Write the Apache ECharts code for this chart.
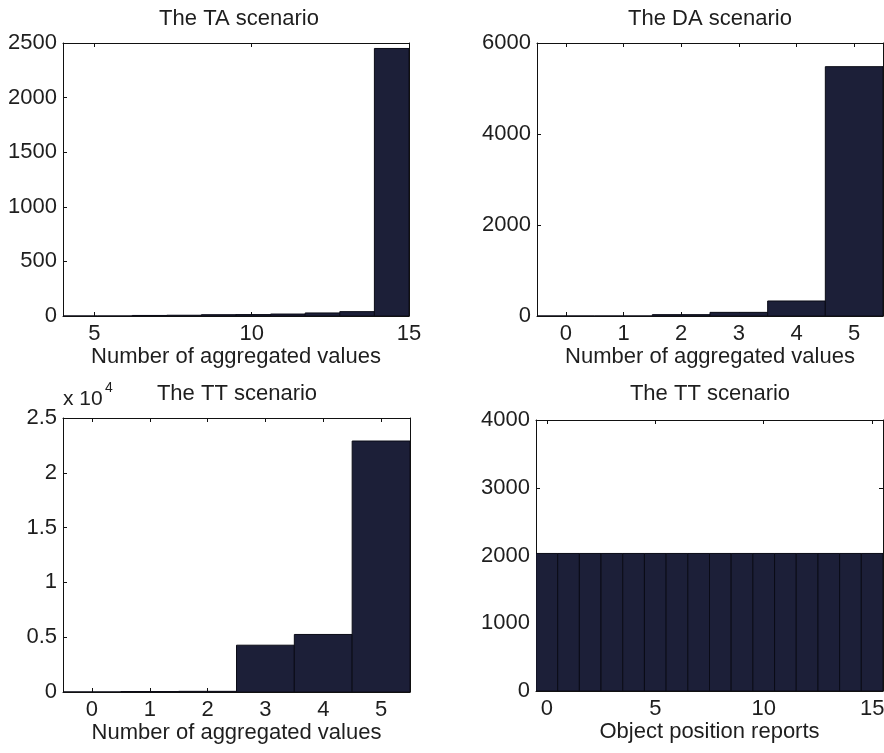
<!DOCTYPE html>
<html>
<head>
<meta charset="utf-8">
<script src="https://cdn.jsdelivr.net/npm/echarts@6/dist/echarts.min.js"></script>
<style>
html,body{margin:0;padding:0;background:#fff;}
#c{width:884px;height:753px;}
</style>
</head>
<body>
<div id="c"></div>
<script>
// ---- data ----
const taBinEdges = [4, 5.1, 6.2, 7.3, 8.4, 9.5, 10.6, 11.7, 12.8, 13.9, 15];
const taCounts = [0, 0, 5, 7, 12, 13, 18, 28, 40, 2450];
const taXTicks = [5, 10, 15];

const daValues = [0, 1, 2, 3, 4, 5];
const daCounts = [0, 0, 30, 80, 330, 5480];
const daXTicks = [0, 1, 2, 3, 4, 5];

const ttValues = [0, 1, 2, 3, 4, 5];
const ttCounts = [5, 40, 60, 4270, 5250, 22900];
const ttXTicks = [0, 1, 2, 3, 4, 5];

const posValues = [0, 1, 2, 3, 4, 5, 6, 7, 8, 9, 10, 11, 12, 13, 14, 15];
const posCounts = [2030, 2030, 2030, 2030, 2030, 2030, 2030, 2030, 2030, 2030, 2030, 2030, 2030, 2030, 2030, 2030];
const posXTicks = [0, 5, 10, 15];

const titles = ['The TA scenario', 'The DA scenario', 'The TT scenario', 'The TT scenario'];
const xNames = ['Number of aggregated values', 'Number of aggregated values', 'Number of aggregated values', 'Object position reports'];

// ---- style ----
const FONT = "'Liberation Sans', Arial, Helvetica, sans-serif";
const TXT = '#1e1e1e';
const BAR = '#1c1f38';
const EDGE = '#0a0b16';
const FS = 22;

const grids = [
  {left: 63, top: 43, width: 346, height: 273},
  {left: 537, top: 43, width: 346, height: 273},
  {left: 63, top: 418, width: 347, height: 274},
  {left: 536, top: 420, width: 347, height: 271}
];
const titlePos = [[234, 3], [705, 3], [232, 378], [705, 378]];

const xRanges = [[4, 15], [-0.5, 5.5], [-0.5, 5.5], [-0.5, 15.5]];
const xTicks = [taXTicks, daXTicks, ttXTicks, posXTicks];
const yRanges = [[0, 2500, 500], [0, 6000, 2000], [0, 25000, 5000], [0, 4000, 1000]];

function binsFromEdges(edges, counts) {
  return counts.map((c, i) => [edges[i], edges[i + 1], c]);
}
function binsFromValues(vals, counts) {
  return counts.map((c, i) => [vals[i] - 0.5, vals[i] + 0.5, c]);
}
const seriesData = [
  binsFromEdges(taBinEdges, taCounts),
  binsFromValues(daValues, daCounts),
  binsFromValues(ttValues, ttCounts),
  binsFromValues(posValues, posCounts)
];

function renderItem(params, api) {
  const p0 = api.coord([api.value(0), api.value(2)]);
  const p1 = api.coord([api.value(1), 0]);
  return {
    type: 'rect',
    shape: {x: p0[0], y: p0[1], width: p1[0] - p0[0], height: p1[1] - p0[1]},
    style: {fill: BAR, stroke: EDGE, lineWidth: 1}
  };
}

const axisLine = {show: true, onZero: false, lineStyle: {color: '#111', width: 1}};
const option = {
  backgroundColor: '#ffffff',
  animation: false,
  textStyle: {fontFamily: FONT},
  grid: grids.map(g => Object.assign({containLabel: false, outerBoundsMode: 'none'}, g)),
  title: grids.map((g, i) => ({
    text: titles[i],
    left: titlePos[i][0],
    top: titlePos[i][1],
    textAlign: 'center',
    textStyle: {fontFamily: FONT, fontSize: FS, fontWeight: 'normal', color: TXT}
  })),
  xAxis: [],
  yAxis: [],
  series: [],
  graphic: [
    {type: 'text', left: 63, top: 389, style: {text: 'x 10', fontFamily: FONT, fontSize: 21, fill: TXT}},
    {type: 'text', left: 105, top: 381, style: {text: '4', fontFamily: FONT, fontSize: 14, fill: TXT}}
  ]
};

grids.forEach((g, i) => {
  const [xmin, xmax] = xRanges[i];
  const [ymin, ymax, yint] = yRanges[i];
  option.xAxis.push({
    type: 'value', gridIndex: i, position: 'bottom', min: xmin, max: xmax,
    axisLine: axisLine, splitLine: {show: false},
    axisTick: {show: true, inside: true, length: 4, customValues: xTicks[i], lineStyle: {color: '#111'}},
    axisLabel: {show: true, customValues: xTicks[i], margin: 7, fontSize: FS, color: TXT, fontFamily: FONT},
    name: xNames[i], nameLocation: 'middle', nameGap: 29,
    nameTextStyle: {fontSize: FS, color: TXT, fontFamily: FONT}
  });
  option.xAxis.push({
    type: 'value', gridIndex: i, position: 'top', min: xmin, max: xmax,
    axisLine: axisLine, splitLine: {show: false},
    axisTick: {show: true, inside: true, length: 4, customValues: xTicks[i], lineStyle: {color: '#111'}},
    axisLabel: {show: false}
  });
  option.yAxis.push({
    type: 'value', gridIndex: i, position: 'left', min: ymin, max: ymax, interval: yint,
    axisLine: axisLine, splitLine: {show: false},
    axisTick: {show: true, inside: true, length: 4, lineStyle: {color: '#111'}},
    axisLabel: {
      show: true, margin: 6, fontSize: FS, color: TXT, fontFamily: FONT,
      formatter: i === 2 ? (v => String(v / 10000)) : (v => String(v))
    }
  });
  option.yAxis.push({
    type: 'value', gridIndex: i, position: 'right', min: ymin, max: ymax, interval: yint,
    axisLine: axisLine, splitLine: {show: false},
    axisTick: {show: true, inside: true, length: 4, lineStyle: {color: '#111'}},
    axisLabel: {show: false}
  });
  option.series.push({
    type: 'custom', xAxisIndex: i * 2, yAxisIndex: i * 2,
    renderItem: renderItem, data: seriesData[i], clip: true,
    encode: {x: [0, 1], y: 2}, z: 1
  });
});

const chart = echarts.init(document.getElementById('c'), null, {renderer: 'canvas'});
chart.setOption(option);
</script>
</body>
</html>
